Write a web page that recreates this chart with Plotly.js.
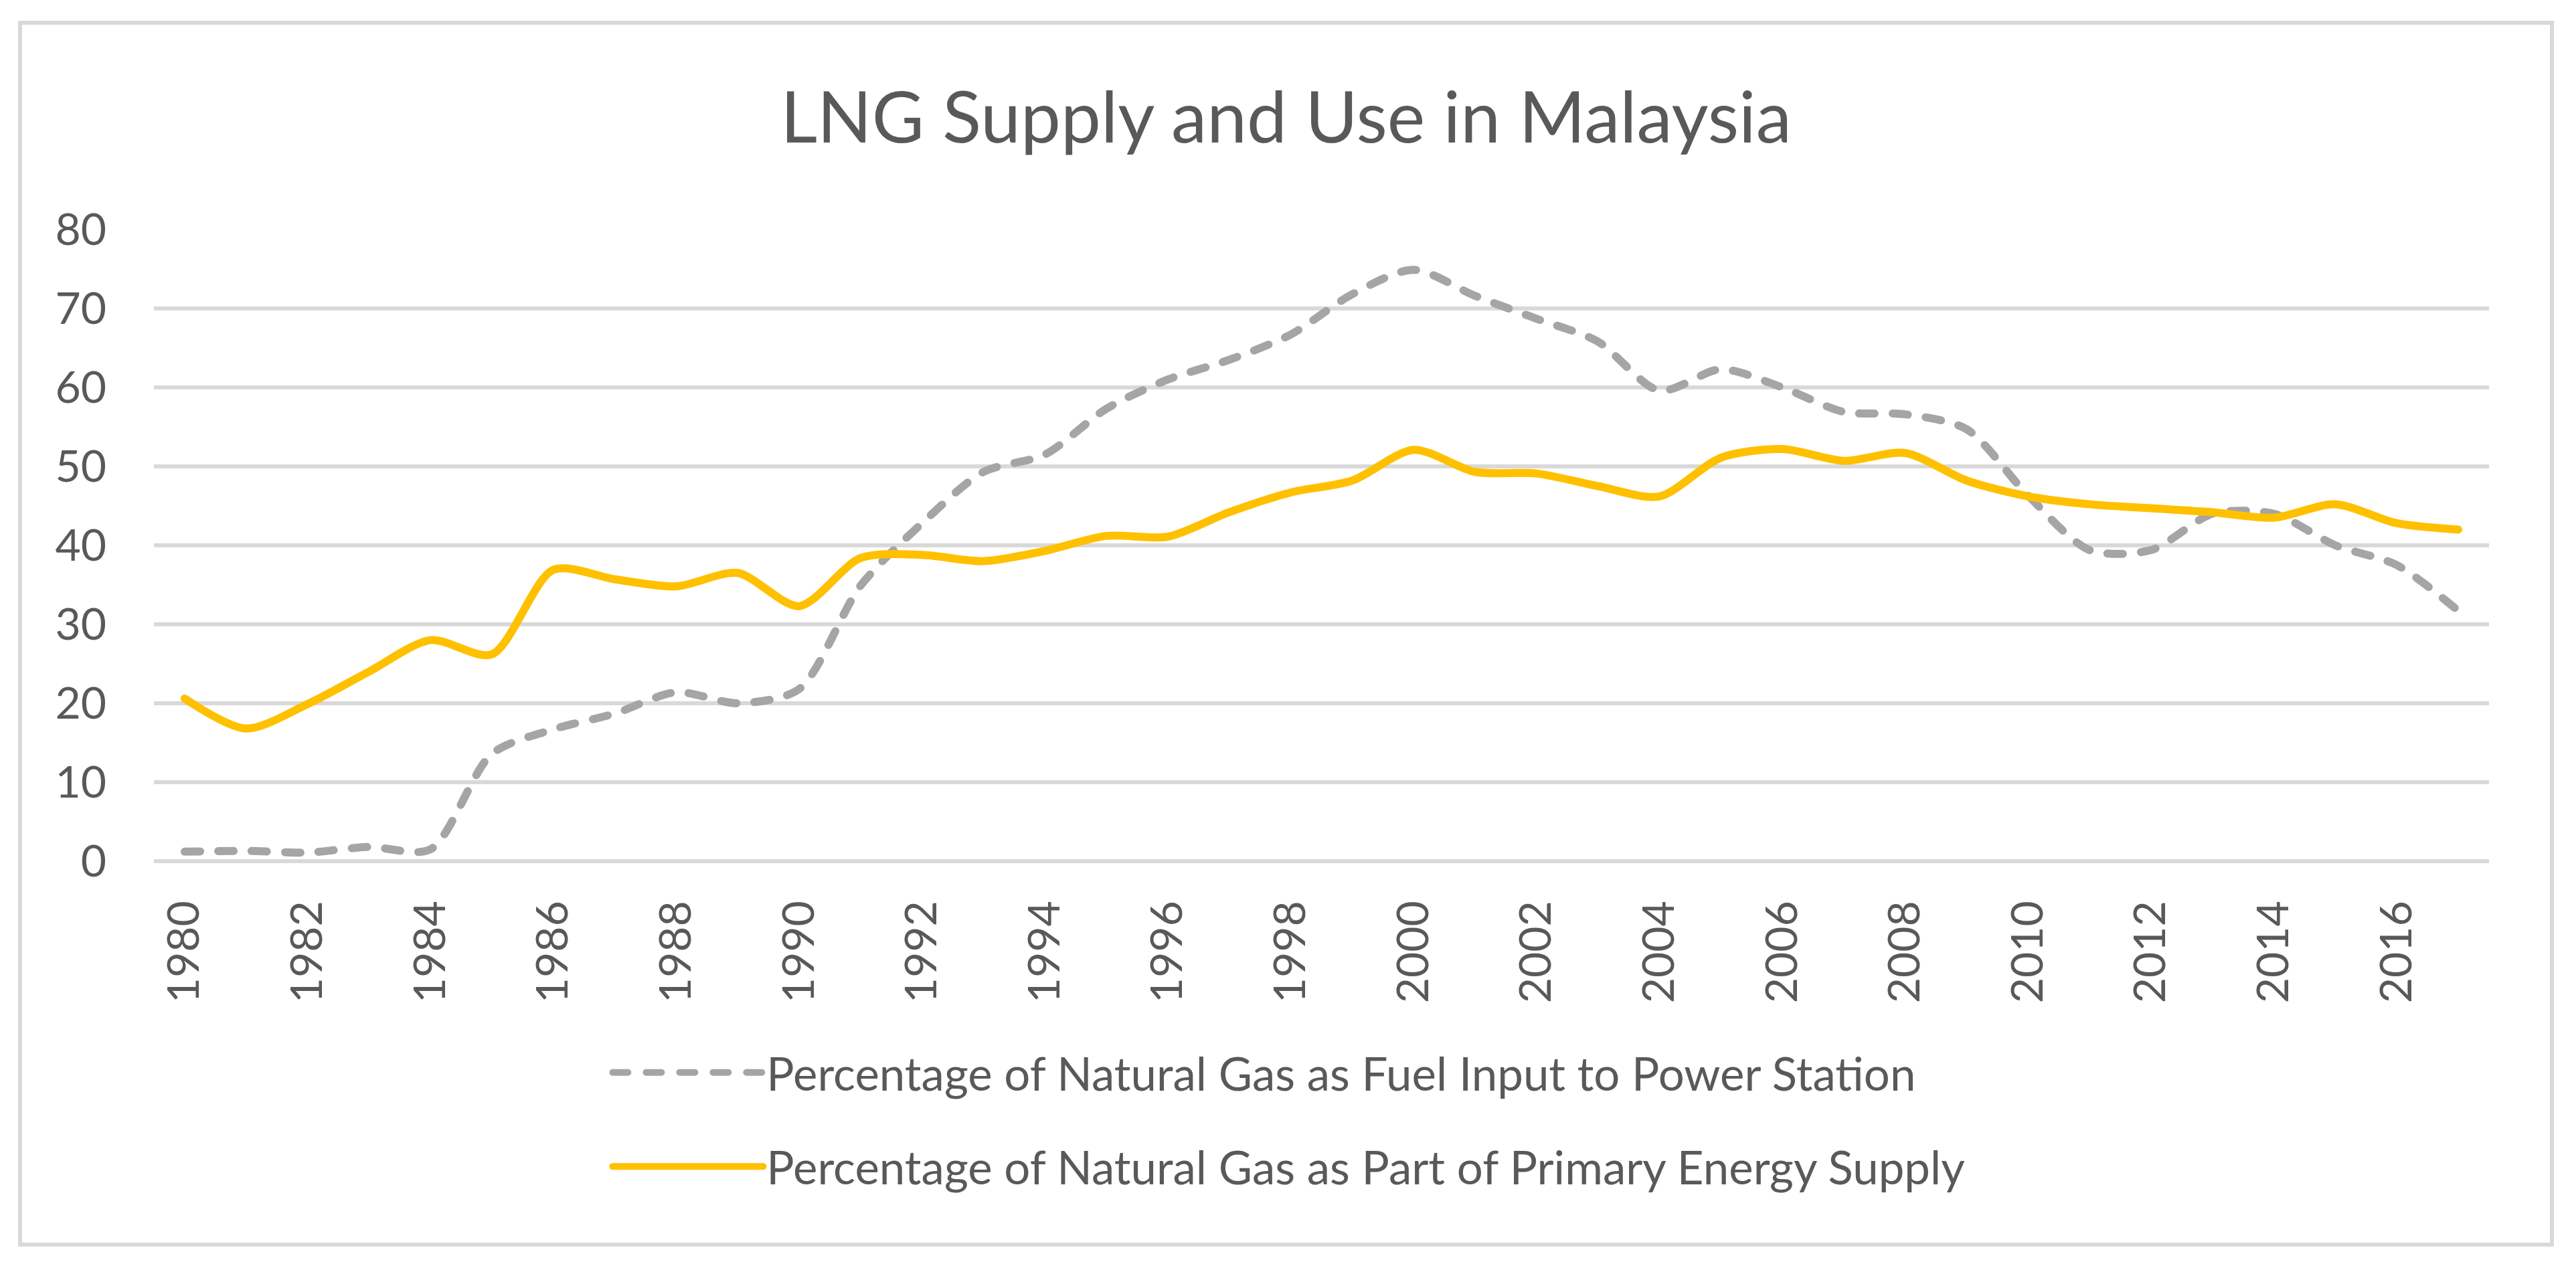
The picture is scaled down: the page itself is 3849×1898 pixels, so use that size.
<!DOCTYPE html>
<html>
<head>
<meta charset="utf-8">
<script src="https://cdn.plot.ly/plotly-3.0.1.min.js"></script>
<style>
  html, body { margin: 0; padding: 0; background: #ffffff; }
  #frame {
    position: absolute; left: 27px; top: 31px;
    width: 3789px; height: 1832px;
    border: 6px solid #d9d9d9; box-sizing: border-box;
  }
  #chartDiv { width: 3777px; height: 1820px; }
  .js-line, .legendlines path { stroke-linecap: round; stroke-linejoin: round; }
</style>
</head>
<body>
<div id="frame"><div id="chartDiv"></div></div>
<script>
"use strict";

const years = [1980, 1981, 1982, 1983, 1984, 1985, 1986, 1987, 1988, 1989,
    1990, 1991, 1992, 1993, 1994, 1995, 1996, 1997, 1998, 1999,
    2000, 2001, 2002, 2003, 2004, 2005, 2006, 2007, 2008, 2009,
    2010, 2011, 2012, 2013, 2014, 2015, 2016, 2017];

// % of natural gas as fuel input to power stations
const powerStationShare = [1.2, 1.3, 1.1, 1.8, 1.5, 13.6, 16.7, 18.7, 21.4, 20.0,
    21.8, 34.9, 42.8, 49.3, 51.5, 57.3, 61.0, 63.5, 66.7, 71.8,
    74.9, 71.6, 68.7, 65.8, 59.6, 62.3, 60.0, 56.9, 56.6, 54.7,
    46.3, 39.4, 39.4, 44.0, 44.0, 40.0, 37.5, 31.7];

// % of natural gas in primary energy supply
const primarySupplyShare = [20.6, 16.8, 19.9, 24.0, 28.0, 26.2, 36.9, 35.7, 34.8, 36.5,
    32.3, 38.4, 38.8, 38.0, 39.3, 41.2, 41.1, 44.2, 46.7, 48.2,
    52.1, 49.3, 49.1, 47.5, 46.2, 51.1, 52.2, 50.7, 51.7, 48.2,
    46.2, 45.2, 44.7, 44.2, 43.5, 45.2, 42.8, 42.0];

const yTicks = [0, 10, 20, 30, 40, 50, 60, 70, 80];

const textColor = '#595959';
const fontFamily = 'Lato, "Open Sans", sans-serif';

var powerStationTrace = {
    x: years,
    y: powerStationShare,
    type: 'scatter',
    mode: 'lines',
    name: 'Percentage of Natural Gas as Fuel Input to Power Station',
    legendgroup: 'a',
    line: { color: '#a5a5a5', width: 12, shape: 'spline', smoothing: 0.8, dash: '23px,27px' }
};
var primarySupplyTrace = {
    x: years,
    y: primarySupplyShare,
    type: 'scatter',
    mode: 'lines',
    name: 'Percentage of Natural Gas as Part of Primary Energy Supply',
    legendgroup: 'b',
    line: { color: '#ffc000', width: 12, shape: 'spline', smoothing: 0.8 }
};

var layout = {
    width: 3777,
    height: 1820,
    margin: { l: 197, r: 91, t: 306, b: 570 },
    paper_bgcolor: '#ffffff',
    plot_bgcolor: '#ffffff',
    font: { family: fontFamily, color: textColor, size: 66 },
    title: {
        text: 'LNG Supply and Use in Malaysia',
        font: { family: fontFamily, size: 107, color: textColor },
        x: 0.5, xanchor: 'center',
        y: 0.924, yanchor: 'middle'
    },
    xaxis: {
        type: 'linear',
        range: [1979.5, 2017.5],
        tickmode: 'array',
        tickvals: years.filter(function (yr) { return (yr - 1980) % 2 === 0; }),
        ticktext: years.filter(function (yr) { return (yr - 1980) % 2 === 0; }).map(String),
        tickangle: -90,
        ticks: '',
        ticklabelstandoff: 45,
        showgrid: false,
        zeroline: false,
        showline: false,
        tickfont: { family: fontFamily, size: 66, color: textColor }
    },
    yaxis: {
        range: [0, 80],
        tickmode: 'array',
        tickvals: yTicks,
        ticktext: yTicks.map(String),
        ticks: '',
        ticklabelstandoff: 70,
        showgrid: true,
        gridcolor: '#d9d9d9',
        gridwidth: 6,
        zeroline: true,
        zerolinecolor: '#d9d9d9',
        zerolinewidth: 6,
        showline: false,
        tickfont: { family: fontFamily, size: 66, color: textColor }
    },
    showlegend: true,
    legend: {
        orientation: 'v',
        x: 0.195, xanchor: 'left',
        y: -0.280, yanchor: 'top',
        traceorder: 'grouped',
        tracegroupgap: 48,
        itemwidth: 225,
        font: { family: fontFamily, size: 69, color: textColor },
        bgcolor: 'rgba(0,0,0,0)'
    }
};

Plotly.newPlot('chartDiv', [powerStationTrace, primarySupplyTrace], layout, { displayModeBar: false, staticPlot: true });
</script>
</body>
</html>
